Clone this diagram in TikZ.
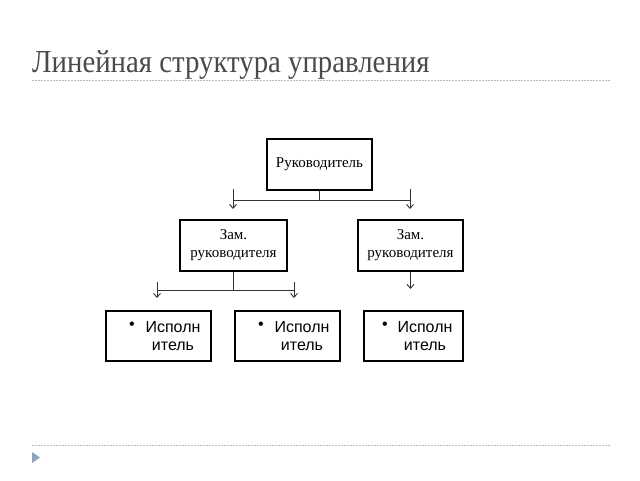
\documentclass[tikz,border=0pt]{standalone}
\usepackage{fontspec}
\usepackage{graphicx}
\setmainfont{Liberation Serif}
\newfontfamily\arialf{Liberation Sans}
\usetikzlibrary{arrows.meta}
\definecolor{titlegray}{HTML}{4A4A4A}
\definecolor{ruleblue}{HTML}{B4BCC8}
\definecolor{triblue}{HTML}{8FA3BE}
\tikzset{
  box/.style={draw=black, line width=1.3pt, minimum width=105pt, minimum height=51pt, inner sep=0pt, align=center, font=\fontsize{15}{18}\selectfont},
  ebox/.style={draw=black, line width=1.3pt, minimum height=50pt, inner sep=0pt},
  etext/.style={align=center, font=\arialf\fontsize{16}{18}\selectfont, inner sep=0pt},
  conn/.style={line width=0.8pt, draw=black!80},
  arr/.style={conn, -{Straight Barb[length=4pt,width=7pt,line width=0.9pt]}},
  rule/.style={draw=ruleblue, dashed, dash pattern=on 2pt off 1pt, line width=0.6pt}
}
\begin{document}
\begin{tikzpicture}[x=1pt,y=-1pt]
\useasboundingbox (0,0) rectangle (640,480);
\fill[white] (0,0) rectangle (640,480);
% title
\node[anchor=base west, inner sep=0pt, text=titlegray, font=\fontsize{32}{34}\selectfont] (title) at (32,72) {\scalebox{0.9}[1]{Линейная структура управления}};
\coordinate (r1a) at (32,80); \coordinate (r1b) at (610,80);
\draw[rule] (r1a) -- (r1b);
\coordinate (r2a) at (32,445); \coordinate (r2b) at (610,445);
\draw[rule] (r2a) -- (r2b);
\fill[triblue] (32,452) -- (40,457.5) -- (32,463) -- cycle;
% boxes
\node[box, minimum width=105pt] (ruk) at (319.5,164.5) {Руководитель};
\node[box, minimum width=107pt] (zl) at (233.5,245.5) {Зам.\\руководителя};
\node[box, minimum width=105pt] (zr) at (410.5,245.5) {Зам.\\руководителя};
\node[ebox, minimum width=105pt] (e1) at (158.5,336) {};
\node[ebox, minimum width=105pt] (e2) at (287.5,336) {};
\node[ebox, minimum width=99pt] (e3) at (413.5,336) {};
\node[etext] (t1) at (173,336) {Исполн\\итель};
\node[etext] (t2) at (302,336) {Исполн\\итель};
\node[etext] (t3) at (425,336) {Исполн\\итель};
\node[etext] (b1) at (132,326) {•};
\node[etext] (b2) at (261,326) {•};
\node[etext] (b3) at (385,326) {•};
% connectors top
\coordinate (h1) at (319.5,200);
\coordinate (hl) at (233,200);
\coordinate (hr) at (410,200);
\coordinate (al0) at (233,189); \coordinate (al1) at (233,209);
\coordinate (ar0) at (410,189); \coordinate (ar1) at (410,209);
\draw[conn] (ruk.south) -- (h1);
\draw[conn] (hl) -- (hr);
\draw[arr] (al0) -- (al1);
\draw[arr] (ar0) -- (ar1);
% left deputy
\coordinate (h2) at (233.5,290);
\coordinate (g1) at (157,290); \coordinate (g2) at (294,290);
\coordinate (bl0) at (157,282); \coordinate (bl1) at (157,298);
\coordinate (br0) at (294,282); \coordinate (br1) at (294,298);
\draw[conn] (zl.south) -- (h2);
\draw[conn] (g1) -- (g2);
\draw[arr] (bl0) -- (bl1);
\draw[arr] (br0) -- (br1);
% right deputy
\coordinate (c1) at (410.5,289);
\draw[arr] (zr.south) -- (c1);
\end{tikzpicture}
\end{document}
